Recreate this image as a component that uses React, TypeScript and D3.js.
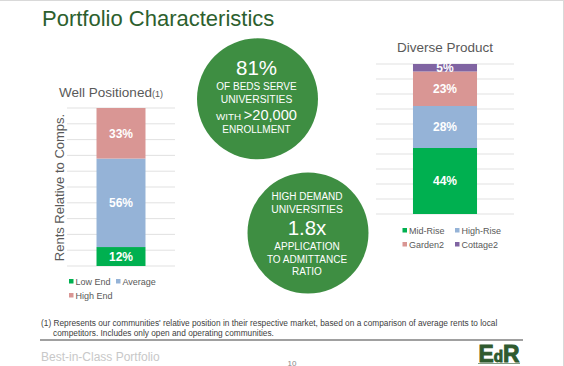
import React from 'react';
import * as d3 from 'd3';

// data
const wellCategories = ['Low End', 'Average', 'High End'];
const wellValues = [12, 56, 33];
const wellColors = ['#00b050', '#95b3d7', '#d99694'];

const productCategories = ['Mid-Rise', 'High-Rise', 'Garden2', 'Cottage2'];
const productValues = [44, 28, 23, 5];
const productColors = ['#00b050', '#95b3d7', '#d99694', '#8064a2'];

const FONT = '"Liberation Sans", Arial, sans-serif';
const GRAY = '#595959';
const CIRCLE = '#3e8e42';

type StackProps = {
  name: string;
  categories: string[];
  values: number[];
  colors: string[];
  x0: number;
  x1: number;
  yTop: number;
  yBottom: number;
  pad: number;
  legendX: number;
  legendY: number;
  legendCol: number;
};

const StackedBar = (p: StackProps) => {
  const x = d3.scaleBand<string>().domain([p.name]).range([p.x0, p.x1]).padding(p.pad);
  const y = d3.scaleLinear().domain([0, 100]).range([p.yBottom, p.yTop]).clamp(true);
  const ends = Array.from(d3.cumsum(p.values));
  const starts = ends.map((e, i) => e - p.values[i]);
  const bx = x(p.name) as number;
  const bw = x.bandwidth();

  return (
    <g>
      {y.ticks(10).map(t => (
        <line key={t} x1={p.x0} x2={p.x1} y1={y(t)} y2={y(t)} stroke="#d9d9d9" strokeWidth={0.8} />
      ))}
      {p.values.map((v, i) => (
        <rect key={i} x={bx} width={bw} y={y(ends[i])} height={y(starts[i]) - y(ends[i])} fill={p.colors[i]} />
      ))}
      {p.values.map((v, i) => (
        <text key={'l' + i} x={bx + bw / 2} y={(y(ends[i]) + y(starts[i])) / 2 + 4.3}
          textAnchor="middle" fill="#fff" fontWeight="bold" fontSize={12} fontFamily={FONT}>
          {v}%
        </text>
      ))}
      {p.categories.map((c, i) => {
        const lx = p.legendX + (i % 2) * p.legendCol;
        const ly = p.legendY + Math.floor(i / 2) * 14;
        return (
          <g key={c}>
            <rect x={lx} y={ly - 2.5} width={4.5} height={4.5} fill={p.colors[i]} />
            <text x={lx + 6.5} y={ly + 3.2} fontSize={9} fill={GRAY} fontFamily={FONT}>{c}</text>
          </g>
        );
      })}
    </g>
  );
};

const App = () => {
  const line1 = "(1) Represents our communities' relative position in their respective market, based on a comparison of average rents to local";
  const line2 = 'competitors. Includes only open and operating communities.';
  return (
    <svg width={564} height={366} style={{ position: 'absolute', left: 0, top: 0, background: '#fff' }}
      fontFamily={FONT}>
      <line x1={0} x2={564} y1={0.5} y2={0.5} stroke="#d9d9d9" />
      <line x1={563.5} x2={563.5} y1={0} y2={366} stroke="#d9d9d9" />

      <text x={42} y={26} fontSize={22} fill="#2d5f2e">Portfolio Characteristics</text>

      {/* left chart */}
      <text x={111} y={97} textAnchor="middle" fontSize={13.5} fill={GRAY}>
        Well Positioned<tspan fontSize={9}>(1)</tspan>
      </text>
      <text transform="translate(64,187.5) rotate(-90)" textAnchor="middle" fontSize={13} fill={GRAY}>
        Rents Relative to Comps.
      </text>
      <StackedBar name="well" categories={wellCategories} values={wellValues} colors={wellColors}
        x0={67} x1={175} yTop={108} yBottom={266} pad={0.376}
        legendX={69} legendY={281.5} legendCol={47} />

      {/* right chart */}
      <text x={445} y={52} textAnchor="middle" fontSize={13.5} fill={GRAY}>Diverse Product</text>
      <StackedBar name="product" categories={productCategories} values={productValues} colors={productColors}
        x0={376} x1={514} yTop={64} yBottom={214} pad={0.366}
        legendX={402.5} legendY={230.5} legendCol={52.5} />

      {/* circles */}
      <circle cx={257.5} cy={98.8} r={60.5} fill={CIRCLE} />
      <g fill="#fff" textAnchor="middle">
        <text x={256.5} y={75} fontSize={20.5}>81%</text>
        <text x={256.5} y={90.3} fontSize={10}>OF BEDS SERVE</text>
        <text x={256.5} y={103} fontSize={10.3}>UNIVERSITIES</text>
        <text x={256.5} y={120}><tspan fontSize={9.8}>WITH </tspan><tspan fontSize={14.6}>&gt;20,000</tspan></text>
        <text x={256.5} y={133.3} fontSize={10}>ENROLLMENT</text>
      </g>

      <circle cx={308} cy={233} r={60.5} fill={CIRCLE} />
      <g fill="#fff" textAnchor="middle">
        <text x={307} y={200} fontSize={10}>HIGH DEMAND</text>
        <text x={307} y={212.7} fontSize={10.3}>UNIVERSITIES</text>
        <text x={307} y={235} fontSize={20.5}>1.8x</text>
        <text x={307} y={250} fontSize={10}>APPLICATION</text>
        <text x={307} y={262.7} fontSize={10}>TO ADMITTANCE</text>
        <text x={307} y={275} fontSize={10}>RATIO</text>
      </g>

      {/* footnote */}
      <text x={41} y={326} fontSize={8.3} fill="#404040">{line1}</text>
      <text x={53} y={336} fontSize={8.3} fill="#404040">{line2}</text>
      <line x1={40} x2={523} y1={340} y2={340} stroke="#808080" strokeWidth={1.5} />
      <text x={41} y={361} fontSize={12} fill="#c8c8c8">Best-in-Class Portfolio</text>
      <text x={292} y={365.5} fontSize={8} fill="#888" textAnchor="middle">10</text>

      {/* logo */}
      <text x={478.5} y={361.5} fontSize={24} fontWeight="bold" fill="#2f5a2f" stroke="#2f5a2f"
        strokeWidth={1} textLength={41} lengthAdjust="spacingAndGlyphs">
        E<tspan fontSize={16}>d</tspan>R
      </text>
      <line x1={478} x2={520} y1={363.5} y2={363.5} stroke="#2f5a2f" strokeWidth={0.6} />
    </svg>
  );
};

export default App;
